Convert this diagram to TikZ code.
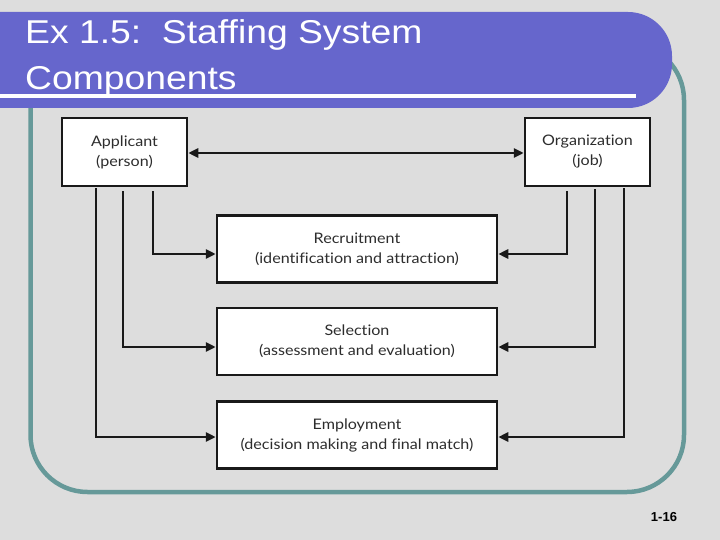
\documentclass[tikz,border=0pt]{standalone}
\usepackage{fontspec}
\setmainfont{Lato}[Ligatures={NoCommon,NoContextual}]
\newfontfamily\titlefont{Liberation Sans}
\usetikzlibrary{arrows.meta}
\definecolor{bgc}{RGB}{221,221,221}
\definecolor{barc}{RGB}{102,102,204}
\definecolor{framec}{RGB}{102,153,153}
\definecolor{txtc}{RGB}{45,45,45}
\newcommand{\wide}[1]{\scalebox{1.11}[1]{#1}}
\tikzset{
  box/.style={draw=black!90, fill=white, line width=2.5pt, inner sep=0pt, align=center,
    text=txtc, font=\fontsize{14.5}{20}\selectfont},
  smallbox/.style={box, minimum width=125pt, minimum height=68pt},
  bigbox/.style={box, minimum width=280pt, minimum height=67pt},
  conn/.style={draw=black!90, line width=2.5pt, -{Triangle[length=10pt,width=9pt]}},
  biconn/.style={draw=black!90, line width=2.5pt, {Triangle[length=10pt,width=9pt]}-{Triangle[length=10pt,width=9pt]}},
  ttl/.style={anchor=base west, inner sep=0pt, text=white, font=\titlefont\fontsize{33}{40}\selectfont}
}
\begin{document}
\begin{tikzpicture}[x=1pt,y=-1pt]
\useasboundingbox (0,0) rectangle (720,540);
\fill[bgc] (0,0) rectangle (720,540);
% teal frame
\draw[framec, line width=4.5pt, rounded corners=57pt] (30.5,43) rectangle (684,492);
% title bar
\fill[barc, rounded corners=44pt] (-80,12) rectangle (672,108);
\draw[white, line width=4pt] (-5,96.5) -- (636,96.5);
\node[ttl] (t1) at (25,44) {\scalebox{1.13}[1]{Ex 1.5:\ \ Staffing System}};
\node[ttl] (t2) at (25,90) {\scalebox{1.13}[1]{Components}};
% boxes
\node[smallbox] (app) at (124.5,152) {\wide{Applicant}\\\wide{(person)}};
\node[smallbox] (org) at (587.5,152) {\wide{Organization}\\\wide{(job)}};
\node[bigbox] (rec) at (357,249) {\wide{Recruitment}\\\wide{(identification and attraction)}};
\node[bigbox] (sel) at (357,341.5) {\wide{Selection}\\\wide{(assessment and evaluation)}};
\node[bigbox] (emp) at (357,435) {\wide{Employment}\\\wide{(decision making and final match)}};
% connectors
\draw[biconn] ([yshift=-1pt]app.east) -- ([yshift=-1pt]org.west);
\draw[conn] ([xshift=28.5pt,yshift=-4pt]app.south) |- ([yshift=-5pt]rec.west);
\draw[conn] ([xshift=-1.5pt,yshift=-4pt]app.south) |- ([yshift=-5.5pt]sel.west);
\draw[conn] ([xshift=-28.5pt,yshift=-1pt]app.south) |- ([yshift=-2pt]emp.west);
\draw[conn] ([xshift=-20.5pt,yshift=-4pt]org.south) |- ([yshift=-5pt]rec.east);
\draw[conn] ([xshift=7.5pt,yshift=-2pt]org.south) |- ([yshift=-5.5pt]sel.east);
\draw[conn] ([xshift=36.5pt,yshift=-1pt]org.south) |- ([yshift=-2pt]emp.east);
% page number
\node[font=\titlefont\bfseries\fontsize{13}{15}\selectfont, anchor=base, inner sep=0pt] (pg) at (664,521) {1-16};
\end{tikzpicture}
\end{document}
